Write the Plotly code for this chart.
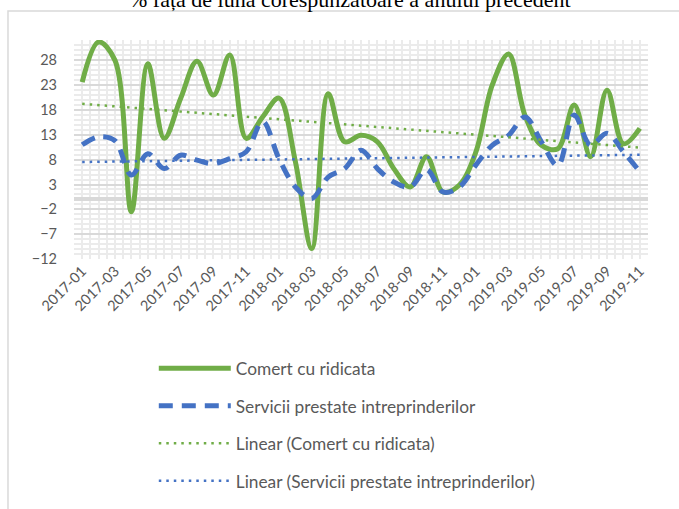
import numpy as np
import plotly.graph_objects as go

# ---- data ----
months = [f"{y}-{m:02d}" for y in (2017, 2018, 2019) for m in range(1, 13)][:35]

comert = [23.6, 31.7, 28.0, -2.5, 27.3, 12.3, 20.3, 27.8, 21.0, 29.1,
          12.3, 16.6, 20.4, 7.6, -9.9, 21.3, 11.6, 12.9, 11.6, 6.2,
          2.5, 8.6, 1.5, 2.9, 9.5, 23.0, 29.3, 16.9, 10.9, 10.2,
          19.0, 8.6, 22.0, 11.2, 14.3]

servicii = [11.0, 12.6, 11.8, 4.9, 9.2, 6.2, 8.9, 7.9, 7.2, 8.2,
            9.6, 15.7, 8.2, 2.5, 0.2, 4.5, 6.2, 9.9, 6.2, 3.5,
            2.5, 6.0, 1.5, 2.5, 6.9, 10.9, 12.9, 16.6, 11.6, 6.8,
            17.0, 10.9, 13.3, 9.6, 5.6]

ytick_vals = [-12, -7, -2, 3, 8, 13, 18, 23, 28]

title_text = "% față de luna corespunzătoare a anului precedent"
names = ["Comert cu ridicata", "Servicii prestate intreprinderilor",
         "Linear (Comert cu ridicata)", "Linear (Servicii prestate intreprinderilor)"]

GREEN = "#70AD47"
BLUE = "#4472C4"
GRAY_TXT = "#595959"

idx = np.arange(len(months))
cg = np.polyfit(idx, comert, 1)
cb = np.polyfit(idx, servicii, 1)
trend_c = np.polyval(cg, idx)
trend_s = np.polyval(cb, idx)

fig = go.Figure()
fig.add_trace(go.Scatter(x=idx, y=comert, mode="lines", name=names[0], legendgroup="a",
                         line=dict(color=GREEN, width=5, shape="spline", smoothing=1)))
fig.add_trace(go.Scatter(x=idx, y=servicii, mode="lines", name=names[1], legendgroup="b",
                         line=dict(color=BLUE, width=5, shape="spline", smoothing=1, dash="14px,9px")))
fig.add_trace(go.Scatter(x=idx, y=trend_c, mode="lines", name=names[2], legendgroup="c",
                         line=dict(color=GREEN, width=2.5, dash="2.5px,5px")))
fig.add_trace(go.Scatter(x=idx, y=trend_s, mode="lines", name=names[3], legendgroup="d",
                         line=dict(color=BLUE, width=2.5, dash="2.5px,5px")))

fig.update_layout(
    width=679, height=509,
    margin=dict(l=74, r=31, t=40, b=250, pad=0, autoexpand=False),
    paper_bgcolor="white", plot_bgcolor="white",
    font=dict(family="Lato", size=14, color=GRAY_TXT),
    showlegend=True,
    legend=dict(orientation="v", x=0.139, y=-0.418, xanchor="left", yanchor="top",
                font=dict(family="Lato", size=17.3, color=GRAY_TXT),
                itemwidth=72, tracegroupgap=12, bgcolor="rgba(0,0,0,0)"),
    annotations=[dict(text=title_text, xref="paper", yref="paper", x=0.48, y=1.12,
                      xanchor="center", yanchor="bottom", showarrow=False,
                      font=dict(family="Liberation Serif", size=22, color="black"))],
    shapes=[dict(type="rect", xref="paper", yref="paper", x0=-0.115, x1=1.2, y0=-2, y1=1.132,
                 line=dict(color="#d9d9d9", width=1.5), fillcolor="rgba(0,0,0,0)", layer="below")],
)

fig.update_xaxes(
    range=[-0.5, 34.5], tickmode="array", tickvals=idx[::2], ticktext=months[::2],
    tickangle=-45, showgrid=True, gridcolor="#ebebeb", gridwidth=2,
    zeroline=False, showline=False, ticks="", automargin=False,
    tickfont=dict(family="Lato", size=14.5, color=GRAY_TXT),
    minor=dict(dtick=0.5, tick0=-0.5, showgrid=True, gridcolor="#ebebeb", gridwidth=2),
)
fig.update_yaxes(
    range=[-12, 32.1], tickmode="array", tickvals=ytick_vals,
    showgrid=True, gridcolor="#d9d9d9", gridwidth=1.5,
    zeroline=True, zerolinecolor="#d9d9d9", zerolinewidth=3.5,
    showline=False, ticks="", ticklabelstandoff=16, automargin=False,
    tickfont=dict(family="Lato", size=14.5, color=GRAY_TXT),
    minor=dict(dtick=1, tick0=-12, showgrid=True, gridcolor="#ebebeb", gridwidth=2),
)

fig.write_html("out.html", config={"displayModeBar": False},
               post_script="document.body.style.margin='0';document.body.style.overflow='hidden';")
